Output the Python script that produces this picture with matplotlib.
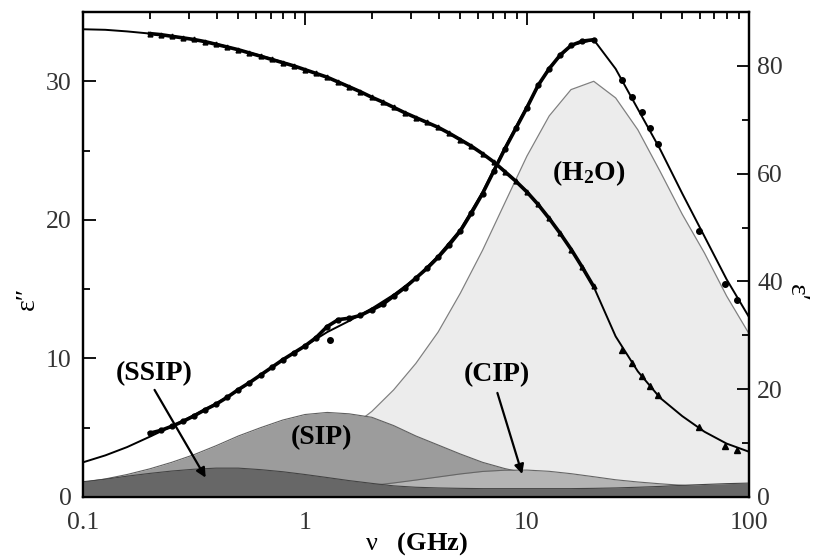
import matplotlib
matplotlib.use('Agg')
import matplotlib.pyplot as plt

plt.rcParams['font.family'] = ['Liberation Serif', 'DejaVu Serif']
plt.rcParams['mathtext.fontset'] = 'custom'
plt.rcParams['mathtext.rm'] = 'Liberation Serif'
plt.rcParams['mathtext.bf'] = 'Liberation Serif:bold'
plt.rcParams['mathtext.it'] = 'Liberation Serif:italic'

# frequency grid of the fitted curves (GHz)
freq = [0.1, 0.126, 0.158, 0.2, 0.251, 0.316, 0.398, 0.501, 0.631, 0.794,
        1.0, 1.26, 1.58, 2.0, 2.51, 3.16, 3.98, 5.01, 6.31, 7.94,
        10, 12.6, 15.8, 20, 25.1, 31.6, 39.8, 50.1, 63.1, 79.4, 100]

# relaxation modes (eps'')
ssip = [1.1, 1.28, 1.5, 1.7, 1.87, 2.0, 2.08, 2.08, 1.97, 1.82,
        1.62, 1.4, 1.18, 0.98, 0.8, 0.7, 0.65, 0.62, 0.6, 0.6,
        0.6, 0.6, 0.6, 0.62, 0.65, 0.7, 0.76, 0.84, 0.9, 0.96, 1.0]
sip = [1.05, 1.3, 1.62, 2.03, 2.5, 3.05, 3.7, 4.4, 5.0, 5.55,
       5.95, 6.1, 6.0, 5.75, 5.15, 4.4, 3.75, 3.1, 2.5, 2.05,
       1.7, 1.42, 1.15, 0.92, 0.74, 0.59, 0.47, 0.37, 0.3, 0.24, 0.19]
cip = [0.04, 0.05, 0.07, 0.09, 0.11, 0.14, 0.18, 0.22, 0.28, 0.35,
       0.43, 0.54, 0.67, 0.83, 1.01, 1.22, 1.44, 1.66, 1.84, 1.93,
       1.94, 1.85, 1.68, 1.46, 1.24, 1.08, 0.95, 0.84, 0.72, 0.6, 0.5]
h2o = [0.31, 0.39, 0.49, 0.62, 0.78, 0.99, 1.24, 1.56, 1.97, 2.48,
       3.12, 3.92, 4.91, 6.17, 7.73, 9.64, 11.9, 14.7, 17.8, 21.2,
       24.6, 27.5, 29.4, 30.0, 28.8, 26.5, 23.5, 20.4, 17.6, 14.5, 11.8]

# fitted totals
eps2_fit = [2.5, 3.0, 3.6, 4.35, 5.1, 5.9, 6.75, 7.7, 8.8, 9.9,
            10.9, 11.9, 12.7, 13.6, 14.6, 15.8, 17.4, 19.3, 22.0, 25.2,
            28.2, 31.0, 32.6, 33.0, 30.9, 28.0, 25.1, 21.9, 18.8, 15.7, 13.0]
eps1_fit = [86.8, 86.7, 86.4, 86.0, 85.5, 84.9, 84.1, 83.0, 81.9, 80.7,
            79.3, 77.9, 76.2, 74.2, 72.3, 70.4, 68.6, 66.4, 63.8, 60.5,
            56.7, 51.8, 46.0, 39.0, 29.8, 23.3, 18.4, 15.0, 12.1, 9.9, 8.4]

# measured data
f_meas = [0.1995, 0.224, 0.251, 0.282, 0.316, 0.355, 0.398, 0.447, 0.501, 0.562,
          0.631, 0.708, 0.794, 0.891, 1.0, 1.122, 1.259, 1.413, 1.585, 1.778,
          1.995, 2.239, 2.512, 2.818, 3.162, 3.548, 3.981, 4.467, 5.012, 5.623,
          6.31, 7.079, 7.943, 8.913, 10.0, 11.22, 12.59, 14.13, 15.85, 17.78, 19.95]
eps2_meas = [4.6, 4.8, 5.1, 5.45, 5.85, 6.3, 6.7, 7.2, 7.75, 8.25,
             8.8, 9.35, 9.9, 10.4, 10.9, 11.5, 12.3, 12.8, 12.9, 13.1,
             13.5, 13.9, 14.5, 15.1, 15.8, 16.5, 17.3, 18.2, 19.2, 20.5,
             21.9, 23.5, 25.1, 26.6, 28.1, 29.7, 30.9, 31.9, 32.6, 32.9, 33.0]
eps1_meas = [86.0, 85.8, 85.5, 85.2, 84.9, 84.5, 84.0, 83.5, 83.0, 82.4,
             81.8, 81.2, 80.6, 80.0, 79.3, 78.6, 77.9, 77.0, 76.1, 75.2,
             74.2, 73.3, 72.3, 71.3, 70.4, 69.5, 68.6, 67.5, 66.3, 65.1,
             63.7, 62.2, 60.4, 58.6, 56.6, 54.3, 51.7, 48.9, 45.9, 42.6, 39.1]
f_hi = [26.7, 29.6, 32.9, 35.8, 38.9, 59.7, 78.0, 88.5]
eps2_hi = [30.1, 28.9, 27.8, 26.6, 25.5, 19.2, 15.4, 14.2]
eps1_hi = [27.3, 24.8, 22.4, 20.6, 18.9, 13.0, 9.5, 8.7]
f_out = [1.29]
eps2_out = [11.3]

fig = plt.figure(figsize=(8.14, 5.59), dpi=100)
ax = fig.add_axes([0.102, 0.111, 0.818, 0.8675])
ax2 = ax.twinx()

# shaded modes, painted from zero
ax.fill_between(freq, 0, h2o, color='#ececec', lw=0, zorder=1)
ax.plot(freq, h2o, color='#808080', lw=0.9, zorder=1.1)
ax.fill_between(freq, 0, sip, color='#9c9c9c', lw=0, zorder=2)
ax.plot(freq, sip, color='#606060', lw=0.8, zorder=2.1)
ax.fill_between(freq, 0, cip, color='#b4b4b4', lw=0, zorder=3)
ax.plot(freq, cip, color='#666666', lw=0.8, zorder=3.1)
ax.fill_between(freq, 0, ssip, color='#676767', lw=0, zorder=4)
ax.plot(freq, ssip, color='#444444', lw=0.8, zorder=4.1)

ax.plot(freq, eps2_fit, color='k', lw=1.4, zorder=5)
ax.plot(f_meas, eps2_meas, 'o-', color='k', ms=3.5, lw=2.6, zorder=6)
ax.plot(f_hi, eps2_hi, 'o', color='k', ms=4, zorder=6)
ax.plot(f_out, eps2_out, 'o', color='k', ms=4, zorder=6)

ax2.plot(freq, eps1_fit, color='k', lw=1.4, zorder=5)
ax2.plot(f_meas, eps1_meas, '^-', color='k', ms=3.5, lw=2.6, zorder=6)
ax2.plot(f_hi, eps1_hi, '^', color='k', ms=4.5, zorder=6)

ax.set_xscale('log')
ax.set_xlim(0.1, 100)
ax.set_ylim(0, 35)
ax2.set_ylim(0, 90)

ax.set_xticks([0.1, 1, 10, 100])
ax.set_xticklabels(['0.1', '1', '10', '100'])
ax.set_yticks([0, 10, 20, 30])
ax.set_yticks([5, 15, 25], minor=True)
ax2.set_yticks([0, 20, 40, 60, 80])
ax2.set_yticks([10, 30, 50, 70], minor=True)

for a in (ax, ax2):
    for s in a.spines.values():
        s.set_linewidth(1.6)
ax.tick_params(which='both', direction='in', top=True, right=False, width=1.3,
               labelsize=18.5, labelcolor='#333333')
ax.tick_params(which='major', length=9)
ax.tick_params(which='minor', length=5)
ax.tick_params(axis='x', which='both', pad=11)
ax.tick_params(axis='y', which='both', pad=8)
ax2.tick_params(which='both', direction='in', width=1.3, labelsize=18.5,
                labelcolor='#333333', pad=6)
ax2.tick_params(which='major', length=9)
ax2.tick_params(which='minor', length=5)

ax.set_xlabel(r'ν   $\mathbf{(GHz)}$', fontsize=19)
ax.xaxis.set_label_coords(0.5, -0.068)
ax.set_ylabel('ε\u2033', fontsize=20, rotation=90)
ax.yaxis.set_label_coords(-0.065, 0.41)
ax2.set_ylabel('ε\u2032', fontsize=20, rotation=270)
ax2.yaxis.set_label_coords(1.09, 0.42)

arrow = dict(arrowstyle='-|>', color='k', lw=1.6, mutation_scale=14)
ax.annotate('', xy=(0.362, 1.22), xytext=(0.207, 7.9), arrowprops=arrow, zorder=7)
ax.annotate('', xy=(9.6, 1.46), xytext=(7.3, 7.7), arrowprops=arrow, zorder=7)

lab = dict(fontsize=20, fontweight='bold', ha='center', va='center', zorder=7)
ax.text(0.209, 8.9, '(SSIP)', **lab)
ax.text(1.19, 4.3, '(SIP)', **lab)
ax.text(7.33, 8.8, '(CIP)', **lab)
ax.text(19.0, 23.4, r'(H$_{\mathbf{2}}$O)', **lab)

fig.savefig('out.png', dpi=100)
